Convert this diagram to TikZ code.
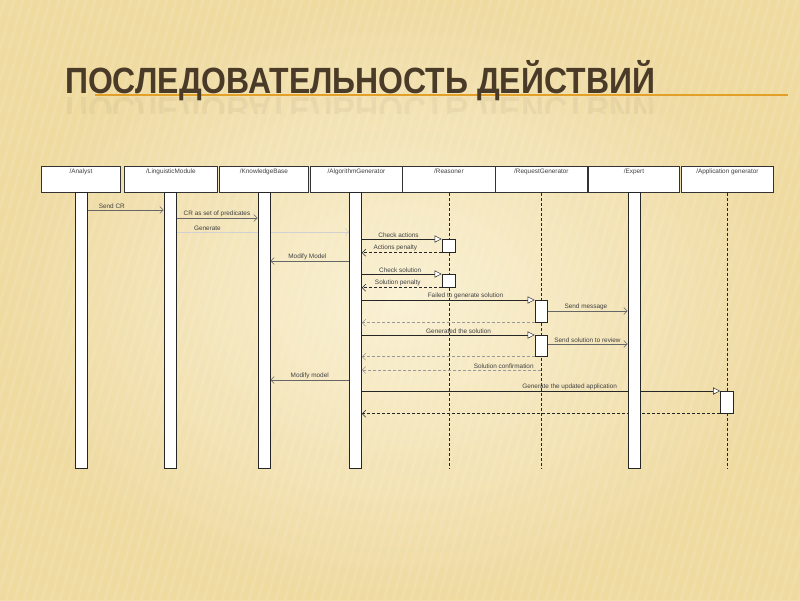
\documentclass[tikz,border=0pt]{standalone}
\usepackage{fontspec}
\setmainfont{Liberation Sans}
\usepackage{graphicx}
\usetikzlibrary{arrows.meta,calc}
\definecolor{bgbase}{RGB}{243,227,180}
\definecolor{bglight}{RGB}{252,245,220}
\definecolor{bgdark}{RGB}{238,216,156}
\definecolor{titlecol}{RGB}{74,58,40}
\definecolor{rulecol}{RGB}{226,160,40}
\pgfdeclarelayer{bg}
\pgfdeclarelayer{msgs}
\pgfsetlayers{bg,msgs,main}
\begin{document}
\begin{tikzpicture}[x=1pt,y=-1pt,
  hdr/.style={draw=black!80, fill=white, line width=0.8pt, minimum height=26pt, inner sep=0pt, anchor=north west},
  hdrlbl/.style={font=\fontsize{6.4}{7}\selectfont, text=black!75, inner sep=0pt, anchor=north},
  bar/.style={draw=black!85, fill=white, line width=0.7pt, minimum width=12pt, inner sep=0pt, anchor=north},
  life/.style={draw=black!85, line width=0.6pt, dash pattern=on 3pt off 2pt},
  lbl/.style={font=\fontsize{6.4}{7}\selectfont, text=black!75, inner sep=1.2pt, anchor=south},
  msg/.style={draw=black!60, line width=0.5pt, -{Straight Barb[length=3.5pt,width=7pt]}},
  call/.style={draw=black!85, line width=0.6pt, -{Triangle[open,fill=white,length=7pt,width=7pt,line width=0.5pt]}},
  ret/.style={draw=black!85, line width=0.6pt, dash pattern=on 3pt off 2pt, -{Straight Barb[length=3.5pt,width=7pt]}},
  fret/.style={draw=black!40, line width=0.5pt, dash pattern=on 3pt off 2pt, -{Straight Barb[length=3.5pt,width=7pt]}},
  faint/.style={draw=black!18, line width=0.5pt, -{Straight Barb[length=3.5pt,width=7pt]}},
]
\useasboundingbox (0,0) rectangle (800,600);
\begin{pgfonlayer}{bg}
  \fill[bgbase] (0,0) rectangle (800,600);
  \shade[inner color=bglight, outer color=bgdark, opacity=0.8] (0,0) rectangle (800,600);
  \begin{scope}
    \clip (0,0) rectangle (800,600);
    \foreach \s in {-300,-291,...,800} {
      \draw[white, opacity=0.09, line width=3pt] (\s,600) -- (\s+170,0);
    }
  \end{scope}
\end{pgfonlayer}

% title
\draw[rulecol, line width=1.3pt] (95,95) -- (788,95);
\node[anchor=base west, inner sep=0pt, text=titlecol, xscale=0.875] (title) at (65,93)
  {\fontsize{36.5}{38}\selectfont\bfseries ПОСЛЕДОВАТЕЛЬНОСТЬ ДЕЙСТВИЙ};
\begin{scope}
  \clip (55,97) rectangle (700,113);
  \node[anchor=base west, inner sep=0pt, text=titlecol, xscale=0.875, yscale=-1, opacity=0.055] (titlerefl) at (65,97)
    {\fontsize{36.5}{38}\selectfont\bfseries ПОСЛЕДОВАТЕЛЬНОСТЬ ДЕЙСТВИЙ};
\end{scope}

% header boxes
\node[hdr, minimum width=79pt] (hA) at (41,166) {};
\node[hdr, minimum width=93pt] (hL) at (124,166) {};
\node[hdr, minimum width=89pt] (hK) at (219,166) {};
\node[hdr, minimum width=92pt] (hG) at (310,166) {};
\node[hdr, minimum width=93pt] (hR) at (402,166) {};
\node[hdr, minimum width=92pt] (hQ) at (495,166) {};
\node[hdr, minimum width=91pt] (hE) at (588,166) {};
\node[hdr, minimum width=92pt] (hP) at (681,166) {};
\node[hdrlbl] (tA) at ([yshift=-2.5pt]hA.north) {/Analyst};
\node[hdrlbl] (tL) at ([yshift=-2.5pt]hL.north) {/LinguisticModule};
\node[hdrlbl] (tK) at ([yshift=-2.5pt]hK.north) {/KnowledgeBase};
\node[hdrlbl] (tG) at ([yshift=-2.5pt]hG.north) {/AlgorithmGenerator};
\node[hdrlbl] (tR) at ([yshift=-2.5pt]hR.north) {/Reasoner};
\node[hdrlbl] (tQ) at ([yshift=-2.5pt]hQ.north) {/RequestGenerator};
\node[hdrlbl] (tE) at ([yshift=-2.5pt]hE.north) {/Expert};
\node[hdrlbl] (tP) at ([yshift=-2.5pt]hP.north) {/Application generator};

% activation bars
\node[bar, minimum height=276pt] (bA) at (81,192) {};
\node[bar, minimum height=276pt] (bL) at (170,192) {};
\node[bar, minimum height=276pt] (bK) at (264,192) {};
\node[bar, minimum height=276pt] (bG) at (355.5,192) {};
\node[bar, minimum height=276pt] (bE) at (634,192) {};

% activation boxes
\node[bar, minimum width=13pt, minimum height=13pt] (r1) at (448.5,239) {};
\node[bar, minimum width=13pt, minimum height=13pt] (r2) at (448.5,274) {};
\node[bar, minimum width=12pt, minimum height=22pt] (q1) at (541,300) {};
\node[bar, minimum width=12pt, minimum height=21pt] (q2) at (541,335) {};
\node[bar, minimum width=13pt, minimum height=22pt] (p1) at (727,391) {};

\begin{pgfonlayer}{msgs}
  % dashed lifelines
  \coordinate (endR) at (hR.south |- 0,468);
  \coordinate (endQ) at (hQ.south |- 0,468);
  \coordinate (endP) at (hP.south |- 0,468);
  \draw[life] (hR.south) -- (endR);
  \draw[life] (hQ.south) -- (endQ);
  \draw[life] (hP.south) -- (endP);

  \draw[msg] (bA.east |- 0,210) -- node[lbl, pos=0.32] {Send CR} (bL.west |- 0,210);
  \draw[msg] (bL.east |- 0,218) -- node[lbl, pos=0.5] {CR as set of predicates} (bK.west |- 0,218);
  \draw[faint] (bL.east |- 0,232) -- node[lbl, pos=0.18] {Generate} (bG.west |- 0,232);
  \draw[call] (bG.east |- r1.north west) -- node[lbl, pos=0.46] {Check actions} (r1.north west);
  \draw[ret] (r1.south west) -- node[lbl, pos=0.58] {Actions penalty} (bG.east |- r1.south west);
  \draw[msg] (bG.west |- 0,261) -- node[lbl, pos=0.53] {Modify Model} (bK.east |- 0,261);
  \draw[call] (bG.east |- r2.north west) -- node[lbl, pos=0.48] {Check solution} (r2.north west);
  \draw[ret] (r2.south west) -- node[lbl, pos=0.55] {Solution penalty} (bG.east |- r2.south west);
  \draw[call] (bG.east |- q1.north west) -- node[lbl, pos=0.6] {Failed to generate solution} (q1.north west);
  \draw[msg] (q1.east |- 0,311) -- node[lbl, pos=0.48] {Send message} (bE.west |- 0,311);
  \draw[fret] (q1.south west) -- (bG.east |- q1.south west);
  \draw[call] (bG.east |- q2.north west) -- node[lbl, pos=0.56] {Generated the solution} (q2.north west);
  \draw[msg] (q2.east |- 0,344) -- node[lbl, pos=0.5] {Send solution to review} (bE.west |- 0,344);
  \draw[fret] (q2.south west) -- (bG.east |- q2.south west);
  \draw[fret] (hQ.south |- 0,370) -- node[lbl, pos=0.21] {Solution confirmation} (bG.east |- 0,370);
  \draw[msg] (bG.west |- 0,380) -- node[lbl, pos=0.5] {Modify model} (bK.east |- 0,380);
  \draw[call] (bG.east |- p1.north west) -- node[lbl, pos=0.58] {Generate the updated application} (p1.north west);
  \draw[ret] (p1.south west) -- (bG.east |- p1.south west);
\end{pgfonlayer}
\end{tikzpicture}
\end{document}
